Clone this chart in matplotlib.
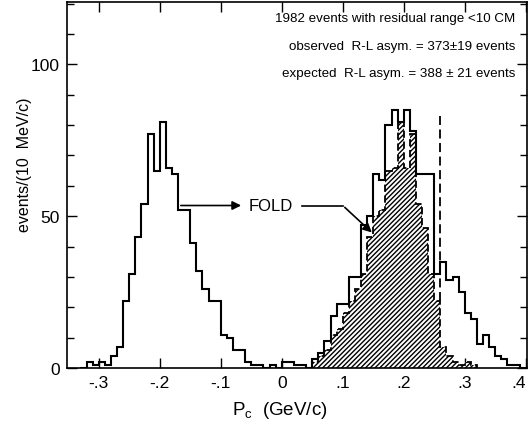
import numpy as np
import matplotlib
matplotlib.use("Agg")
import matplotlib.pyplot as plt
from matplotlib.ticker import FixedLocator, MultipleLocator

FONT = ['Liberation Sans', 'DejaVu Sans']
plt.rcParams['font.family'] = FONT
plt.rcParams['mathtext.fontset'] = 'custom'
plt.rcParams['mathtext.rm'] = 'Liberation Sans'
plt.rcParams['hatch.linewidth'] = 1.0

# ---- data ----
# open (observed) histogram, 10 MeV/c bins starting at -0.33 GeV/c
open_start = -0.33
open_counts = [0, 2, 1, 2, 1, 4, 7, 22, 31, 43, 54, 77, 65, 81, 66, 64, 52, 52, 41, 32,
               26, 22, 22, 11, 10, 6, 6, 2, 1, 1, 0, 1, 0, 2, 2, 1, 1, 0, 3, 5,
               9, 17, 21, 21, 30, 30, 47, 50, 64, 62, 80, 85, 81, 85, 78, 64, 64, 64, 31, 35,
               29, 30, 25, 18, 16, 8, 11, 7, 4, 3, 1, 1, 0]
# hatched (folded) histogram, bins starting at 0.05 GeV/c
fold_start = 0.05
fold_counts = [2, 4, 6, 11, 13, 18, 22, 26, 31, 43, 50, 52, 65, 66, 81, 66, 77, 54, 46, 31,
               22, 7, 4, 2, 1, 2, 1]
bin_width = 0.01
cut_x = 0.26
cut_y = [22, 83]

xtick_vals = [-0.3, -0.2, -0.1, 0.0, 0.1, 0.2, 0.3, 0.4]
xtick_labels = ['-.3', '-.2', '-.1', '0', '.1', '.2', '.3', '.4']
ytick_vals = [0, 50, 100]
ytick_labels = ['0', '50', '100']

text_lines = ['1982 events with residual range <10 CM',
              'observed  R-L asym. = 373\u00b119 events',
              'expected  R-L asym. = 388 \u00b1 21 events']

# ---- figure ----
fig = plt.figure(figsize=(5.29, 4.27), dpi=100)
ax = fig.add_axes([67/529, 58/427, 460/529, 366/427])

open_edges = open_start + bin_width * np.arange(len(open_counts) + 1)
fold_edges = fold_start + bin_width * np.arange(len(fold_counts) + 1)

ax.stairs(fold_counts, fold_edges, fill=True, facecolor='white', edgecolor='black',
          hatch='///////', linewidth=0, zorder=2)
ax.stairs(fold_counts, fold_edges, fill=False, edgecolor='black', linewidth=1.3,
          linestyle=(0, (4, 2)), zorder=3)
ax.stairs(open_counts, open_edges, fill=False, edgecolor='black', linewidth=1.5, zorder=4)
ax.plot([cut_x, cut_x], cut_y, color='black', linewidth=1.3, linestyle=(0, (5, 2.5)), zorder=4)

# FOLD arrows
ax.annotate('', xy=(-0.062, 53.5), xytext=(-0.17, 53.5),
            arrowprops=dict(arrowstyle='-|>', color='black', lw=1.2, mutation_scale=13))
ax.text(-0.018, 53.5, 'FOLD', fontsize=12, ha='center', va='center')
ax.plot([0.033, 0.10], [53.5, 53.5], color='black', lw=1.2)
ax.annotate('', xy=(0.151, 44), xytext=(0.10, 53.5),
            arrowprops=dict(arrowstyle='-|>', color='black', lw=1.2, mutation_scale=13))

for t, yy in zip(text_lines, [0.955, 0.880, 0.806]):
    ax.text(0.975, yy, t, transform=ax.transAxes, ha='right', va='center', fontsize=9.6)

ax.set_xlim(-0.352, 0.402)
ax.set_ylim(0, 120.5)

ax.xaxis.set_major_locator(FixedLocator(xtick_vals))
ax.set_xticklabels(xtick_labels)
ax.yaxis.set_major_locator(FixedLocator(ytick_vals))
ax.set_yticklabels(ytick_labels)
ax.yaxis.set_minor_locator(MultipleLocator(10))

ax.tick_params(axis='both', which='both', direction='in', top=True, right=True,
               labelsize=12.5, width=1.0)
ax.tick_params(axis='both', which='major', length=7, pad=5)
ax.tick_params(axis='y', which='minor', length=5)
xl = ax.get_xticklabels()
xl[-1].set_horizontalalignment('right')
for s in ax.spines.values():
    s.set_linewidth(1.2)

ax.set_ylabel('events/(10  MeV/c)', fontsize=11.5)
ax.yaxis.set_label_coords(-0.075, 0.557)
ax.set_xlabel(r'$\mathregular{P_c}$  (GeV/c)', fontsize=13.5)
ax.xaxis.set_label_coords(0.463, -0.085)

fig.savefig('out.png', dpi=100)
